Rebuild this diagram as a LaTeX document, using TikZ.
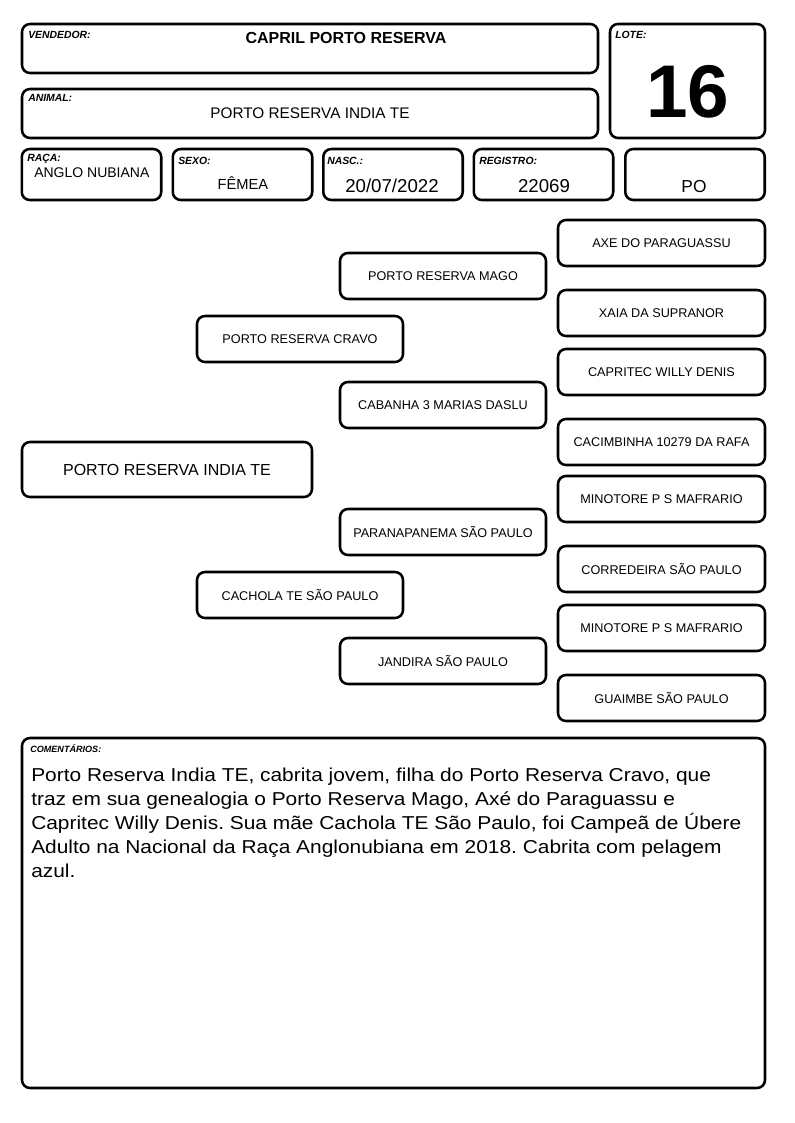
\documentclass[tikz,border=0pt]{standalone}
\usepackage{fontspec}
\setmainfont{Liberation Sans}
\newfontfamily\comfont[FakeStretch=1.12]{Liberation Sans}
\frenchspacing
\begin{document}
\begin{tikzpicture}[x=0.75pt,y=-0.75pt,
  box/.style={draw, line width=1.9pt, rounded corners=6pt, inner sep=0pt},
  hdr/.style={box, minimum width=432pt, minimum height=36.75pt},
  lotebox/.style={box, minimum width=116.25pt, minimum height=85.5pt},
  field/.style={box, minimum width=104.6pt, minimum height=38.25pt},
  pedR/.style={box, minimum width=155.25pt, minimum height=34.5pt, font=\fontsize{9.5}{11}\selectfont},
  pedM/.style={box, minimum width=154.5pt, minimum height=34.5pt, font=\fontsize{9.5}{11}\selectfont},
  pedMain/.style={box, minimum width=217.5pt, minimum height=41.25pt, font=\fontsize{12}{14}\selectfont},
  combox/.style={box, minimum width=557.25pt, minimum height=262.5pt},
  lbl/.style={font=\fontsize{7.8}{9}\selectfont\bfseries\itshape, inner sep=0pt, anchor=base west},
  val/.style={inner sep=0pt, anchor=base},
]
\useasboundingbox (0,0) rectangle (794,1123);
\fill[white] (0,0) rectangle (794,1123);

% header boxes
\node[hdr] (vend) at (310,48.5) {};
\node[hdr] (anim) at (310,113.5) {};
\node[lotebox] (lote) at (687.5,81) {};
\node[field] (raca) at (91.5,174.5) {};
\node[field] (sexo) at (242.5,174.5) {};
\node[field] (nasc) at (393,174.5) {};
\node[field] (reg) at (543.5,174.5) {};
\node[field] (po) at (695,174.5) {};

% labels
\node[lbl] (lvend) at (28,39) {VENDEDOR:};
\node[lbl] (lanim) at (28,102) {ANIMAL:};
\node[lbl] (llote) at (615,39) {LOTE:};
\node[lbl] (lraca) at (27,162) {RAÇA:};
\node[lbl] (lsexo) at (178,165) {SEXO:};
\node[lbl] (lnasc) at (327,165) {NASC.:};
\node[lbl] (lreg) at (479,165) {REGISTRO:};

% values
\node[val, font=\fontsize{12}{14}\selectfont\bfseries] (tvend) at (346,44) {CAPRIL PORTO RESERVA};
\node[val, font=\fontsize{11.5}{14}\selectfont] (tanim) at (310,119) {PORTO RESERVA INDIA TE};
\node[val, font=\fontsize{56}{60}\selectfont\bfseries] (tlote) at (688,118) {16};
\node[inner sep=0pt, anchor=base west, font=\fontsize{10.5}{12}\selectfont] (traca) at (34,178) {ANGLO NUBIANA};
\node[val, font=\fontsize{11}{13}\selectfont] (tsexo) at (243,190) {FÊMEA};
\node[val, font=\fontsize{14}{16}\selectfont] (tnasc) at (392,193) {20/07/2022};
\node[val, font=\fontsize{14}{16}\selectfont] (treg) at (544,193) {22069};
\node[val, font=\fontsize{13}{15}\selectfont] (tpo) at (694,193) {PO};

% pedigree
\node[pedMain] (animal) at (167,469.5) {PORTO RESERVA INDIA TE};
\node[pedM] (pai) at (300,339) {PORTO RESERVA CRAVO};
\node[pedM] (mae) at (300,595) {CACHOLA TE SÃO PAULO};
\node[pedM] (avpp) at (443,276) {PORTO RESERVA MAGO};
\node[pedM] (avpm) at (443,405) {CABANHA 3 MARIAS DASLU};
\node[pedM] (avmp) at (443,532) {PARANAPANEMA SÃO PAULO};
\node[pedM] (avmm) at (443,661) {JANDIRA SÃO PAULO};
\node[pedR] (b1) at (661.5,243) {AXE DO PARAGUASSU};
\node[pedR] (b2) at (661.5,313) {XAIA DA SUPRANOR};
\node[pedR] (b3) at (661.5,372) {CAPRITEC WILLY DENIS};
\node[pedR] (b4) at (661.5,442) {CACIMBINHA 10279 DA RAFA};
\node[pedR] (b5) at (661.5,499) {MINOTORE P S MAFRARIO};
\node[pedR] (b6) at (661.5,569) {CORREDEIRA SÃO PAULO};
\node[pedR] (b7) at (661.5,628) {MINOTORE P S MAFRARIO};
\node[pedR] (b8) at (661.5,698) {GUAIMBE SÃO PAULO};

% comments
\node[combox] (com) at (393.5,913) {};
\node[lbl, font=\fontsize{6.8}{8}\selectfont\bfseries\itshape] (lcom) at (30,752) {COMENTÁRIOS:};
\node[inner sep=0pt, anchor=base west, align=left, font=\comfont\fontsize{14}{18}\selectfont] (tcom) at (31,877)
{Porto Reserva India TE, cabrita jovem, filha do Porto Reserva Cravo, que\\
traz em sua genealogia o Porto Reserva Mago, Axé do Paraguassu e\\
Capritec Willy Denis. Sua mãe Cachola TE São Paulo, foi Campeã de Úbere\\
Adulto na Nacional da Raça Anglonubiana em 2018. Cabrita com pelagem\\
azul.};
\end{tikzpicture}
\end{document}
